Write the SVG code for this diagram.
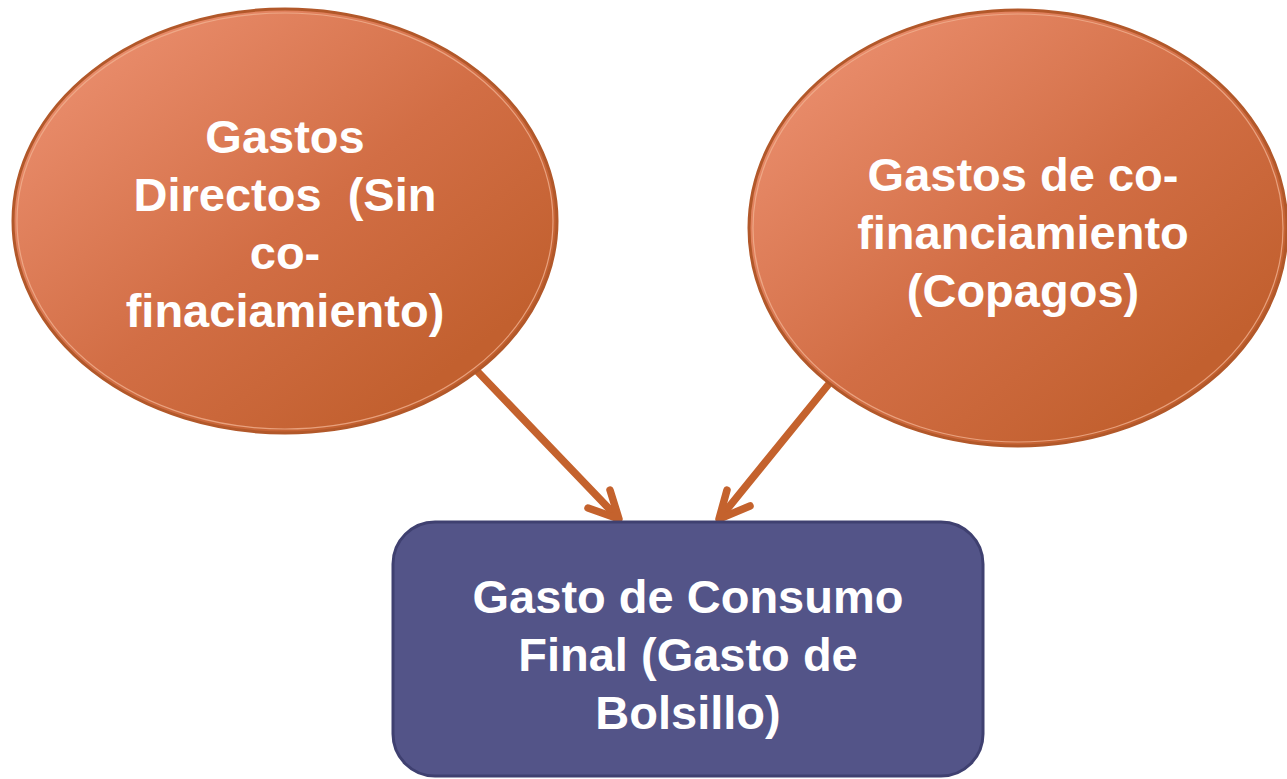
<svg xmlns="http://www.w3.org/2000/svg" width="1287" height="779" viewBox="0 0 1287 779">
<style>
.bub{stroke:#B2582A;stroke-width:3}
.rim{fill:none;stroke:#F0B090;stroke-width:1.2;opacity:.8}
.lbl{font-family:"Liberation Sans",Arial,sans-serif;font-weight:bold;font-size:47px;fill:#FFFFFF;text-anchor:middle}
.con{stroke:#C4622D;stroke-width:7.5;stroke-linecap:round;stroke-linejoin:round;fill:none}
</style>
<defs>
<linearGradient id="g" x1="0.15" y1="0.1" x2="0.85" y2="0.8">
<stop offset="0" stop-color="#E98C6B"/>
<stop offset="0.55" stop-color="#D26E45"/>
<stop offset="1" stop-color="#C2602F"/>
</linearGradient>
</defs>
<g id="connectors">
<path class="con" d="M478,372 L618,518"/>
<path class="con" d="M588,508 L619,519 L610,490"/>
<path class="con" d="M828,385 L720,518"/>
<path class="con" d="M727,490 L719,519 L750,506"/>
</g>
<g id="node-directos">
<ellipse class="bub" cx="285" cy="221" rx="272" ry="212" fill="url(#g)"/>
<ellipse class="rim" cx="285" cy="221" rx="268" ry="208"/>
<text class="lbl" x="285" y="153">Gastos</text>
<text class="lbl" x="285" y="211" xml:space="preserve">Directos  (Sin</text>
<text class="lbl" x="285" y="269">co-</text>
<text class="lbl" x="285" y="327">finaciamiento)</text>
</g>
<g id="node-cofinanciamiento">
<ellipse class="bub" cx="1018" cy="228" rx="269" ry="218" fill="url(#g)"/>
<ellipse class="rim" cx="1018" cy="228" rx="265" ry="214"/>
<text class="lbl" x="1023" y="191">Gastos de co-</text>
<text class="lbl" x="1023" y="249">financiamiento</text>
<text class="lbl" x="1023" y="307">(Copagos)</text>
</g>
<g id="node-consumo">
<rect x="393" y="522" width="590" height="254" rx="42" fill="#535488" stroke="#3F4070" stroke-width="3"/>
<text class="lbl" x="688" y="613">Gasto de Consumo</text>
<text class="lbl" x="688" y="671">Final (Gasto de</text>
<text class="lbl" x="688" y="729">Bolsillo)</text>
</g>
</svg>
